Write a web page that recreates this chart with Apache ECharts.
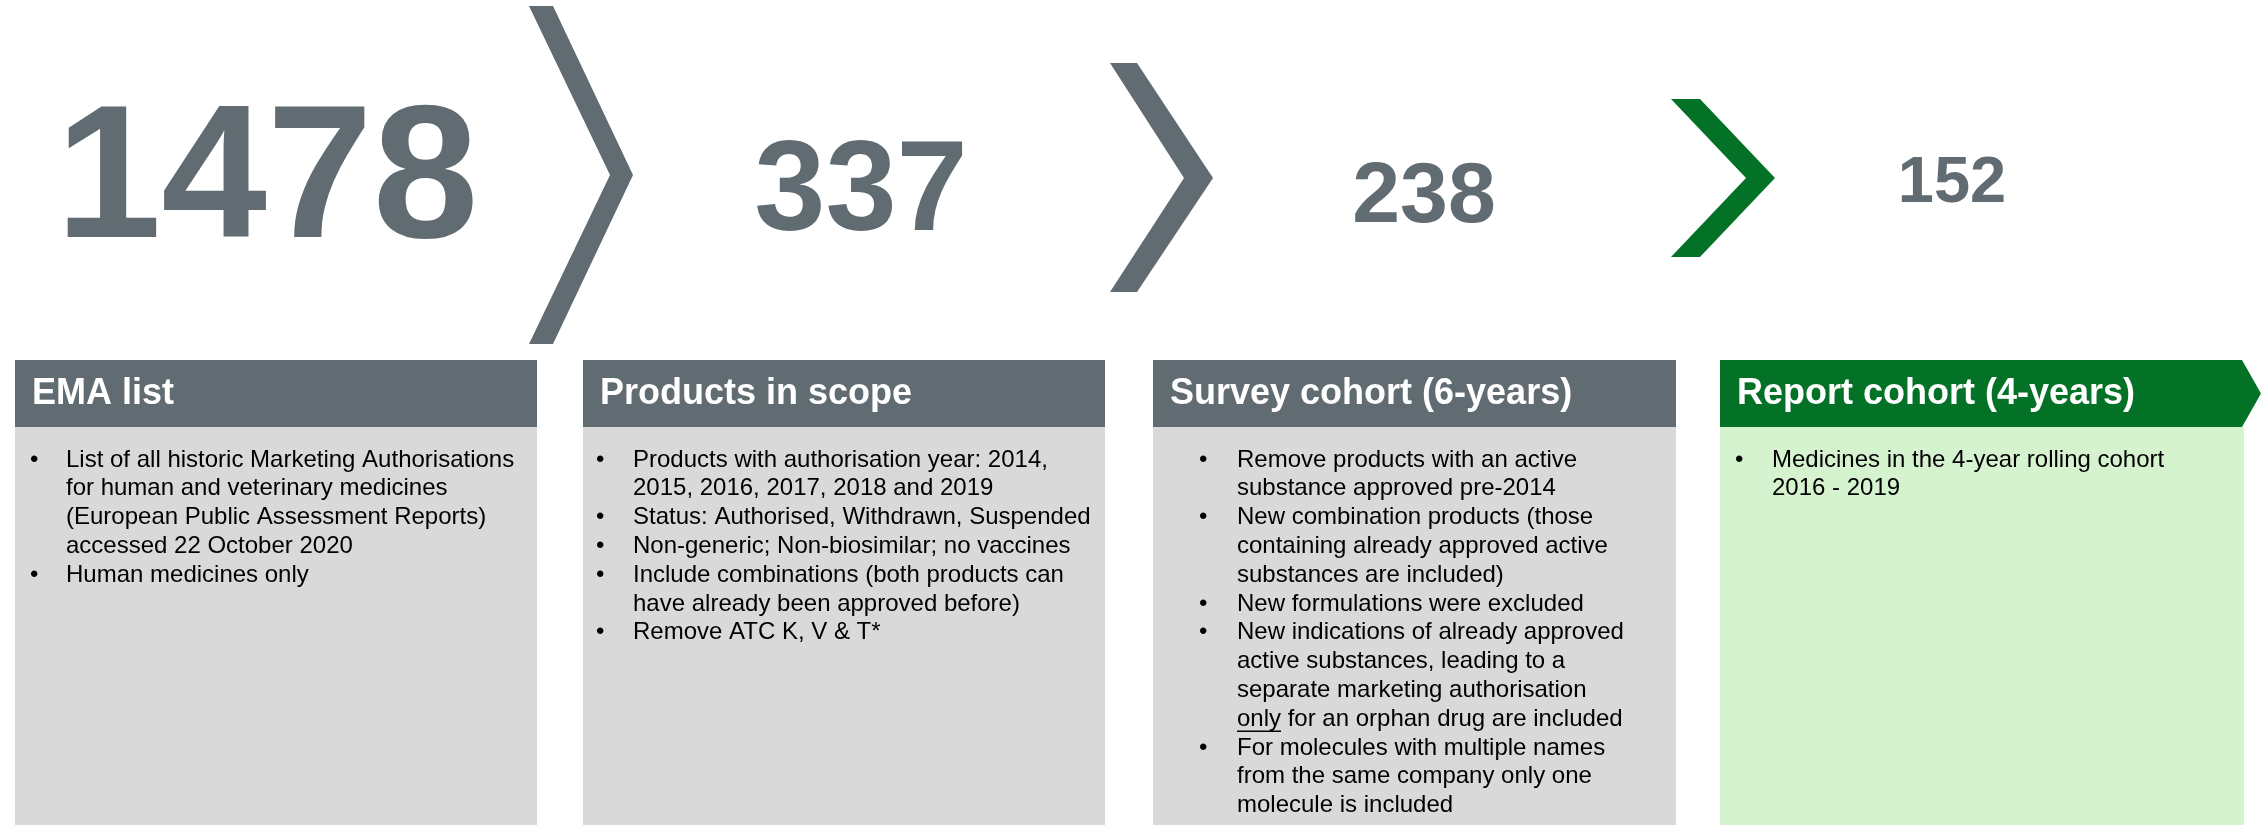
<!DOCTYPE html>
<html>
<head>
<meta charset="utf-8">
<script src="https://cdn.jsdelivr.net/npm/echarts@6/dist/echarts.min.js"></script>
<style>
html,body{margin:0;padding:0;background:#fff;}
#main{width:2262px;height:825px;}
</style>
</head>
<body>
<div id="main"></div>
<script>
// ---- data ----
const counts = [1478, 337, 238, 152];
const titles = ['EMA list', 'Products in scope', 'Survey cohort (6-years)', 'Report cohort (4-years)'];
const bulletsEMA = [
  ['List of all historic Marketing Authorisations', 'for human and veterinary medicines', '(European Public Assessment Reports)', 'accessed 22 October 2020'],
  ['Human medicines only']
];
const bulletsScope = [
  ['Products with authorisation year: 2014,', '2015, 2016, 2017, 2018 and 2019'],
  ['Status: Authorised, Withdrawn, Suspended'],
  ['Non-generic; Non-biosimilar; no vaccines'],
  ['Include combinations (both products can', 'have already been approved before)'],
  ['Remove ATC K, V & T*']
];
const bulletsSurvey = [
  ['Remove products with an active', 'substance approved pre-2014'],
  ['New combination products (those', 'containing already approved active', 'substances are included)'],
  ['New formulations were excluded'],
  ['New indications of already approved', 'active substances, leading to a', 'separate marketing authorisation', 'only for an orphan drug are included'],
  ['For molecules with multiple names', 'from the same company only one', 'molecule is included']
];
const bulletsReport = [
  ['Medicines in the 4-year rolling cohort', '2016 - 2019']
];
const underlined = [{box: 2, bullet: 3, line: 3, word: 'only'}];

// ---- layout / style ----
const GRAY = '#606b72', GREEN = '#047226', BODY_GRAY = '#d9d9d9', BODY_GREEN = '#d6f3d0';
const FONT = '"Liberation Sans", Arial, sans-serif';
const allBullets = [bulletsEMA, bulletsScope, bulletsSurvey, bulletsReport];
const boxes = [
  {x0: 15, x1: 537, bulletX: 30, textX: 66, head: GRAY, body: BODY_GRAY},
  {x0: 583, x1: 1105, bulletX: 596, textX: 633, head: GRAY, body: BODY_GRAY},
  {x0: 1153, x1: 1676, bulletX: 1199, textX: 1237, head: GRAY, body: BODY_GRAY},
  {x0: 1720, x1: 2242, bulletX: 1735, textX: 1772, head: GREEN, body: BODY_GREEN, arrow: true}
];
const headTop = 360, headBot = 427, bodyBot = 825;
const numberLayout = [
  {cx: 267, cy: 171, size: 190},
  {cx: 861, cy: 185, size: 128},
  {cx: 1424, cy: 192, size: 86},
  {cx: 1952, cy: 179, size: 65}
];
const chevrons = [
  {pts: [[529,6],[553,6],[633,175],[553,344],[529,344],[610,175]], color: GRAY},
  {pts: [[1110,63],[1137,63],[1213,178],[1137,292],[1110,292],[1184,178]], color: GRAY},
  {pts: [[1671,99],[1700,99],[1775,178],[1700,257],[1671,257],[1746,178]], color: GREEN}
];
const lineH = 28.8, firstLineY = 460, bodySize = 24;

const measureCtx = document.createElement('canvas').getContext('2d');
measureCtx.font = bodySize + 'px ' + FONT;

const els = [];
chevrons.forEach(c => els.push({type: 'polygon', shape: {points: c.pts}, style: {fill: c.color}}));
counts.forEach((v, i) => {
  const L = numberLayout[i];
  els.push({type: 'text', x: L.cx, y: L.cy + 0.074 * L.size, style: {text: String(v), font: 'bold ' + L.size + 'px ' + FONT, fill: GRAY, align: 'center', verticalAlign: 'middle'}});
});
boxes.forEach((b, i) => {
  els.push({type: 'rect', shape: {x: b.x0, y: headBot, width: (b.arrow ? 2244 : b.x1) - b.x0, height: bodyBot - headBot}, style: {fill: b.body}});
  if (b.arrow) {
    els.push({type: 'polygon', shape: {points: [[b.x0, headTop], [b.x1, headTop], [2261, (headTop + headBot) / 2], [b.x1, headBot], [b.x0, headBot]]}, style: {fill: b.head}});
  } else {
    els.push({type: 'rect', shape: {x: b.x0, y: headTop, width: b.x1 - b.x0, height: headBot - headTop}, style: {fill: b.head}});
  }
  els.push({type: 'text', x: b.x0 + 17, y: 394, style: {text: titles[i], font: 'bold 36px ' + FONT, fill: '#fff', align: 'left', verticalAlign: 'middle'}});
  let ln = 0;
  allBullets[i].forEach((bul, bi) => {
    bul.forEach((t, li) => {
      const y = firstLineY + ln * lineH;
      if (li === 0) {
        els.push({type: 'text', x: b.bulletX, y: y, style: {text: '\u2022', font: bodySize + 'px ' + FONT, fill: '#000', align: 'left', verticalAlign: 'middle'}});
      }
      els.push({type: 'text', x: b.textX, y: y, style: {text: t, font: bodySize + 'px ' + FONT, fill: '#000', align: 'left', verticalAlign: 'middle'}});
      underlined.forEach(u => {
        if (u.box === i && u.bullet === bi && u.line === li) {
          const start = t.indexOf(u.word);
          const xs = b.textX + measureCtx.measureText(t.slice(0, start)).width;
          const w = measureCtx.measureText(u.word).width;
          els.push({type: 'line', shape: {x1: xs, y1: y + 12, x2: xs + w, y2: y + 12}, style: {stroke: '#000', lineWidth: 1.6}});
        }
      });
      ln++;
    });
  });
});

const chart = echarts.init(document.getElementById('main'), null, {renderer: 'canvas'});
chart.setOption({backgroundColor: '#fff', animation: false, graphic: {elements: els}});
</script>
</body>
</html>
